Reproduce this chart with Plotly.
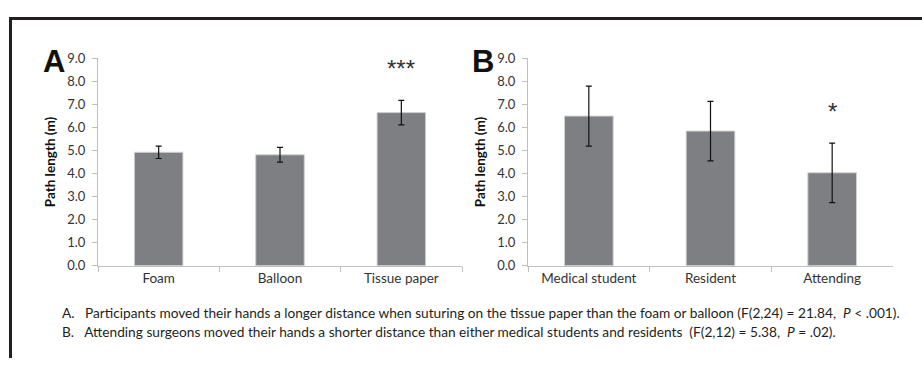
import plotly.graph_objects as go

cats_a = ["Foam", "Balloon", "Tissue paper"]
vals_a = [4.92, 4.81, 6.64]
err_a = [0.27, 0.32, 0.53]

cats_b = ["Medical student", "Resident", "Attending"]
vals_b = [6.49, 5.84, 4.03]
err_b = [1.30, 1.29, 1.29]

yticks = [0, 1, 2, 3, 4, 5, 6, 7, 8, 9]
ytick_labels = ["0.0", "1.0", "2.0", "3.0", "4.0", "5.0", "6.0", "7.0", "8.0", "9.0"]

NB = "\u00a0"
caption_a = ("A." + NB * 3 + "Participants moved their hands a longer distance when suturing on the tissue paper than the foam or balloon "
             "(F(2,24) = 21.84, " + NB + "<i>P</i> &lt; .001).")
caption_b = ("B." + NB * 3 + "Attending surgeons moved their hands a shorter distance than either medical students and residents " + NB +
             "(F(2,12) = 5.38, " + NB + "<i>P</i> = .02).")

W, H = 922, 366
def px(x):
    return x / W
def py(y):
    return 1 - y / H

FONT = "Lato"
BAR = "#7e7f83"
AXIS = "#bfbfbf"
TXT = "#333333"

fig = go.Figure()
for cats, vals, errs, xa, ya in [(cats_a, vals_a, err_a, "x", "y"), (cats_b, vals_b, err_b, "x2", "y2")]:
    fig.add_trace(go.Bar(
        x=cats, y=vals, xaxis=xa, yaxis=ya,
        marker=dict(color=BAR, line=dict(color="#d0d0d0", width=1)),
        error_y=dict(type="data", array=errs, visible=True, color="#111111", thickness=1.2, width=3),
        showlegend=False, hoverinfo="skip",
    ))

ydom = [py(269.5), py(52.5)]
common_x = dict(showline=True, linecolor=AXIS, linewidth=1, ticks="outside", tickson="boundaries",
                ticklen=5, tickcolor=AXIS, showgrid=False, zeroline=False,
                tickfont=dict(family=FONT, size=13.5, color=TXT), fixedrange=True)
common_y = dict(range=[0, 9], tickvals=yticks, ticktext=ytick_labels, showline=True, linecolor=AXIS,
                linewidth=1, ticks="outside", ticklen=5, tickcolor=AXIS, showgrid=False, zeroline=False,
                ticklabelstandoff=4,
                tickfont=dict(family=FONT, size=13, color=TXT), domain=ydom,
                title=dict(text="<b>Path length (m)</b>", font=dict(family=FONT, size=13.5, color="#111111"),
                           standoff=8), fixedrange=True)

fig.update_layout(
    width=W, height=H, margin=dict(l=0, r=0, t=0, b=0),
    paper_bgcolor="white", plot_bgcolor="white", bargap=0.6,
    xaxis=dict(domain=[px(98), px(462)], anchor="y", **common_x),
    yaxis=dict(anchor="x", **common_y),
    xaxis2=dict(domain=[px(528), px(893)], anchor="y2", **common_x),
    yaxis2=dict(anchor="x2", **common_y),
)

# significance markers
fig.add_annotation(x="Tissue paper", y=8.55, xref="x", yref="y", text="***", showarrow=False,
                   font=dict(family="Liberation Sans", size=24, color=TXT))
fig.add_annotation(x="Attending", y=6.7, xref="x2", yref="y2", text="*", showarrow=False,
                   font=dict(family="Liberation Sans", size=24, color=TXT))

# panel letters
fig.add_annotation(x=px(54), y=py(56), xref="paper", yref="paper", text="<b>A</b>", showarrow=False,
                   xanchor="center", yanchor="middle",
                   font=dict(family="Liberation Sans", size=31, color="#111111"))
fig.add_annotation(x=px(483), y=py(56), xref="paper", yref="paper", text="<b>B</b>", showarrow=False,
                   xanchor="center", yanchor="middle",
                   font=dict(family="Liberation Sans", size=31, color="#111111"))

# captions
for txt, yy in [(caption_a, 318), (caption_b, 338)]:
    fig.add_annotation(x=px(60), y=py(yy), xref="paper", yref="paper", text=txt, showarrow=False,
                       xanchor="left", yanchor="middle", font=dict(family=FONT, size=13.7, color="#231f20"))

# frame
fig.add_shape(type="line", xref="paper", yref="paper", x0=px(9), x1=1, y0=py(11), y1=py(11),
              line=dict(color="#231f20", width=3))
fig.add_shape(type="line", xref="paper", yref="paper", x0=px(10.5), x1=px(10.5), y0=0, y1=py(10),
              line=dict(color="#231f20", width=3))

fig.write_html("out.html", post_script="document.body.style.margin='0';document.body.style.overflow='hidden';",
               config={"displayModeBar": False})
